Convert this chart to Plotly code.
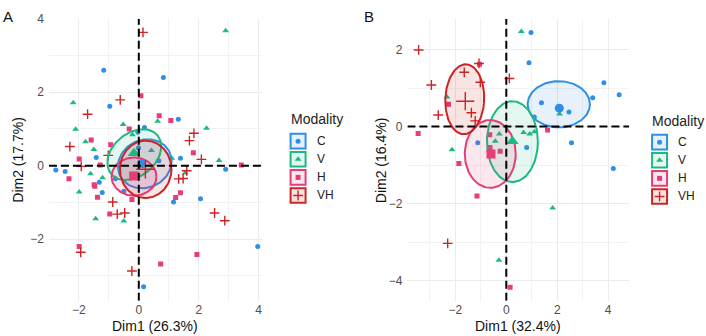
import numpy as np
import plotly.graph_objects as go

# ---------------- data ----------------
modalities = ["C", "V", "H", "VH"]

# Panel A  (Dim1 26.3%, Dim2 17.7%)
a_c_x = [-1.17, 0.82, -0.97, 1.32, 0.19, -0.03, -0.01, -1.42, 0.67, 1.39, 2.9, -2.77, -2.46, -1.32, -1.22, -0.78, -0.5, 1.16, 2.06, 3.97, 0.16]
a_c_y = [2.6, 2.4, 1.62, 1.26, 1.04, 0.91, 0.49, 0.22, 0.13, 0.2, -0.1, -0.12, -0.16, -0.45, -0.73, -0.36, -0.7, -0.99, -0.9, -2.2, -3.3]
a_v_x = [2.9, -2.19, 0.63, -0.52, -2.11, 2.26, -1.78, -0.21, -1.5, 0.42, 1.1, 2.68, -1.61, -1.21, -1.99, -1.44, -0.5, 1.55]
a_v_y = [3.67, 1.71, 1.21, 1.12, 0.99, 1.02, 0.65, 0.84, 0.44, 0.41, 0.2, 0.14, -0.22, -0.33, -0.72, -1.45, -1.51, -0.2]
a_h_x = [0.07, 0.68, 1.07, -0.32, -1.59, -0.94, 1.82, -1.99, -1.29, 3.42, -2.33, -1.49, -1.47, -1.38, -0.97, -1.99, 0.73, 1.94, -0.23, 1.23, 1.39]
a_h_y = [1.9, 1.36, 1.23, 1.0, 0.7, 0.57, 0.35, 0.18, 0.02, 0.02, -0.36, -0.52, -0.56, -0.86, -1.32, -2.2, -2.68, -2.42, -0.92, -0.87, -0.74]
a_vh_x = [0.14, -0.62, -1.71, 1.84, 1.69, -2.3, -1.02, 2.09, -1.92, 1.6, 1.33, 1.48, 2.53, 2.87, -0.87, -0.72, -0.47, -1.94, -0.23]
a_vh_y = [3.63, 1.79, 1.4, 0.88, 0.68, 0.52, 0.28, 0.17, -0.02, -0.14, -0.36, -0.35, -1.29, -1.5, -0.99, -1.32, -1.29, -2.36, -2.87]
a_cent_x = [0.1, -0.16, -0.17, 0.22]
a_cent_y = [0.05, 0.34, -0.28, -0.1]
# ellipses: centre x, centre y, semi-axis a, semi-axis b, angle (deg)
a_ell_cx = [0.2, -0.15, -0.16, 0.23]
a_ell_cy = [0.05, 0.3, -0.3, -0.1]
a_ell_a = [0.9, 0.95, 0.75, 0.86]
a_ell_b = [0.66, 0.62, 0.52, 0.78]
a_ell_ang = [10, 25, 0, 0]

# Panel B  (Dim1 32.4%, Dim2 16.4%)
b_c_x = [0.97, 0.89, 1.38, 1.1, -1.12, 0.8, 3.83, 4.43, 3.39, 2.46, 2.56, 4.2]
b_c_y = [2.44, 1.66, 0.62, 0.25, -0.42, -0.54, 1.14, 0.83, 0.75, 0.38, -0.42, -1.09]
b_v_x = [0.59, -2.33, 0.68, 0.92, 1.1, -0.43, -0.27, -2.13, 1.82, -0.29, 2.09]
b_v_y = [2.47, 0.77, -0.15, -0.19, -0.13, -0.38, -0.19, -0.6, -2.11, -3.47, 0.33]
b_h_x = [-1.05, -2.27, -3.46, 1.62, -0.65, -0.64, -0.24, -1.86, -1.15, 0.15]
b_h_y = [1.62, 0.58, -0.18, -0.09, -0.21, -0.54, -0.64, -0.96, -1.8, -4.17]
b_vh_x = [-3.44, -1.65, -1.07, -1.02, 0.12, -2.94, -1.37, -2.67, -1.22, -2.3]
b_vh_y = [1.99, 1.41, 1.64, 1.15, 1.25, 1.08, 0.36, 0.3, 0.15, -3.03]
b_cent_x = [2.08, 0.24, -0.6, -1.61]
b_cent_y = [0.48, -0.38, -0.71, 0.66]
b_ell_cx = [2.06, 0.24, -0.63, -1.63]
b_ell_cy = [0.58, -0.39, -0.71, 0.71]
b_ell_a = [1.22, 1.0, 1.0, 0.76]
b_ell_b = [0.6, 1.05, 0.88, 0.91]
b_ell_ang = [0, 0, 0, -8]

x_ticks = [-2, 0, 2, 4]
a_y_ticks = [-2, 0, 2, 4]
b_y_ticks = [-4, -2, 0, 2]

# ---------------- style ----------------
W, H = 706, 336
colors = {"C": "#2F8FE6", "V": "#1DB983", "H": "#E63C78", "VH": "#CC2424"}
fills = {"C": "rgba(47,143,230,0.12)", "V": "rgba(29,185,131,0.12)",
         "H": "rgba(230,60,120,0.12)", "VH": "rgba(204,36,36,0.12)"}
symbols = {"C": "circle", "V": "triangle-up", "H": "square", "VH": "cross-thin"}
sizes = {"C": 5, "V": 6, "H": 5, "VH": 7}
csizes = {"C": 9, "V": 11, "H": 9, "VH": 13}
FONT = "Liberation Sans, Arial, sans-serif"
GRID = "#EBEBEB"


def marker(m, size):
    if m == "VH":
        return dict(symbol=symbols[m], size=size, line=dict(color=colors[m], width=1.4))
    return dict(symbol=symbols[m], size=size, color=colors[m], line=dict(width=0))


fig = go.Figure()

panels = [
    dict(xa="x", ya="y",
         pts={"C": (a_c_x, a_c_y), "V": (a_v_x, a_v_y), "H": (a_h_x, a_h_y), "VH": (a_vh_x, a_vh_y)},
         cx=a_cent_x, cy=a_cent_y,
         ell=(a_ell_cx, a_ell_cy, a_ell_a, a_ell_b, a_ell_ang)),
    dict(xa="x2", ya="y2",
         pts={"C": (b_c_x, b_c_y), "V": (b_v_x, b_v_y), "H": (b_h_x, b_h_y), "VH": (b_vh_x, b_vh_y)},
         cx=b_cent_x, cy=b_cent_y,
         ell=(b_ell_cx, b_ell_cy, b_ell_a, b_ell_b, b_ell_ang)),
]

t = np.linspace(0, 2 * np.pi, 120)
for p in panels:
    ecx, ecy, ea, eb, eang = p["ell"]
    for i, m in enumerate(modalities):
        xs, ys = p["pts"][m]
        fig.add_trace(go.Scatter(x=xs, y=ys, mode="markers", marker=marker(m, sizes[m]),
                                 xaxis=p["xa"], yaxis=p["ya"], showlegend=False, hoverinfo="skip"))
    for i, m in enumerate(modalities):
        th = np.deg2rad(eang[i])
        ex = ecx[i] + ea[i] * np.cos(t) * np.cos(th) - eb[i] * np.sin(t) * np.sin(th)
        ey = ecy[i] + ea[i] * np.cos(t) * np.sin(th) + eb[i] * np.sin(t) * np.cos(th)
        fig.add_trace(go.Scatter(x=ex, y=ey, mode="lines", fill="toself", fillcolor=fills[m],
                                 line=dict(color=colors[m], width=2),
                                 xaxis=p["xa"], yaxis=p["ya"], showlegend=False, hoverinfo="skip"))
    for i, m in enumerate(modalities):
        fig.add_trace(go.Scatter(x=[p["cx"][i]], y=[p["cy"][i]], mode="markers",
                                 marker=marker(m, csizes[m]),
                                 xaxis=p["xa"], yaxis=p["ya"], showlegend=False, hoverinfo="skip"))

a_xr, a_yr = [-3.0, 4.1], [-3.68, 4.0]
b_xr, b_yr = [-3.88, 4.82], [-4.52, 2.8]

for xa, ya, xr, yr in [("x", "y", a_xr, a_yr), ("x2", "y2", b_xr, b_yr)]:
    fig.add_shape(type="line", xref=xa, yref=ya, x0=0, x1=0, y0=yr[0], y1=yr[1],
                  line=dict(color="black", width=2, dash="8px,4px"))
    fig.add_shape(type="line", xref=xa, yref=ya, x0=xr[0], x1=xr[1], y0=0, y1=0,
                  line=dict(color="black", width=2, dash="8px,4px"))

axis_common = dict(showline=False, zeroline=False, ticks="", showgrid=True, gridcolor=GRID, gridwidth=1,
                   tickfont=dict(family=FONT, size=12, color="#4D4D4D"),
                   minor=dict(showgrid=True, gridcolor="#F3F3F3", gridwidth=1, dtick=1))

top = 1 - 12 / H
bot = 1 - 300 / H
fig.update_layout(
    width=W, height=H, autosize=False,
    margin=dict(l=0, r=0, t=0, b=0),
    paper_bgcolor="white", plot_bgcolor="rgba(0,0,0,0)",
    font=dict(family=FONT),
    xaxis=dict(domain=[49 / W, 262 / W], range=a_xr, tickvals=x_ticks, anchor="y", **axis_common),
    yaxis=dict(domain=[bot, top], range=a_yr, tickvals=a_y_ticks, anchor="x", ticklabelstandoff=4, **axis_common),
    xaxis2=dict(domain=[408 / W, 630 / W], range=b_xr, tickvals=x_ticks, anchor="y2", **axis_common),
    yaxis2=dict(domain=[bot, top], range=b_yr, tickvals=b_y_ticks, anchor="x2", ticklabelstandoff=4, **axis_common),
    xaxis3=dict(domain=[0, 1], range=[0, W], visible=False, anchor="y3", fixedrange=True),
    yaxis3=dict(domain=[0, 1], range=[H, 0], visible=False, anchor="x3", fixedrange=True),
)

# legend keys (drawn on an invisible pixel-space overlay axis)
legends = [dict(x=290, ty=114, ys=[137, 155.5, 174, 192.5]),
           dict(x=652, ty=116, ys=[138, 156.5, 175, 193.5])]
for lg in legends:
    fig.add_annotation(x=lg["x"] - 1, y=lg["ty"], xref="x3", yref="y3", text="Modality", showarrow=False,
                       xanchor="left", yanchor="middle", font=dict(family=FONT, size=14, color="#222222"))
    for i, m in enumerate(modalities):
        yc = lg["ys"][i]
        fig.add_shape(type="rect", xref="x3", yref="y3", x0=lg["x"] + 1, x1=lg["x"] + 16,
                      y0=yc - 7.5, y1=yc + 7.5, fillcolor=fills[m], line=dict(color=colors[m], width=2))
        fig.add_trace(go.Scatter(x=[lg["x"] + 8.5], y=[yc], mode="markers", marker=marker(m, sizes[m]),
                                 xaxis="x3", yaxis="y3", showlegend=False, hoverinfo="skip"))
        fig.add_annotation(x=lg["x"] + 25, y=yc, xref="x3", yref="y3", text=m, showarrow=False,
                           xanchor="left", yanchor="middle", font=dict(family=FONT, size=12, color="#222222"))

# titles and panel tags
texts = [("A", 8, 10, 0, 15), ("B", 370, 10, 0, 15),
         ("Dim1 (26.3%)", 155, 326, 0, 14), ("Dim1 (32.4%)", 519, 326, 0, 14),
         ("Dim2 (17.7%)", 18, 156, -90, 14), ("Dim2 (16.4%)", 381, 156, -90, 14)]
for txt, px, py, ang, sz in texts:
    fig.add_annotation(x=px, y=py, xref="x3", yref="y3", text=txt, showarrow=False, textangle=ang,
                       xanchor="center", yanchor="middle", font=dict(family=FONT, size=sz, color="#111111"))

fig.write_html("out.html")
